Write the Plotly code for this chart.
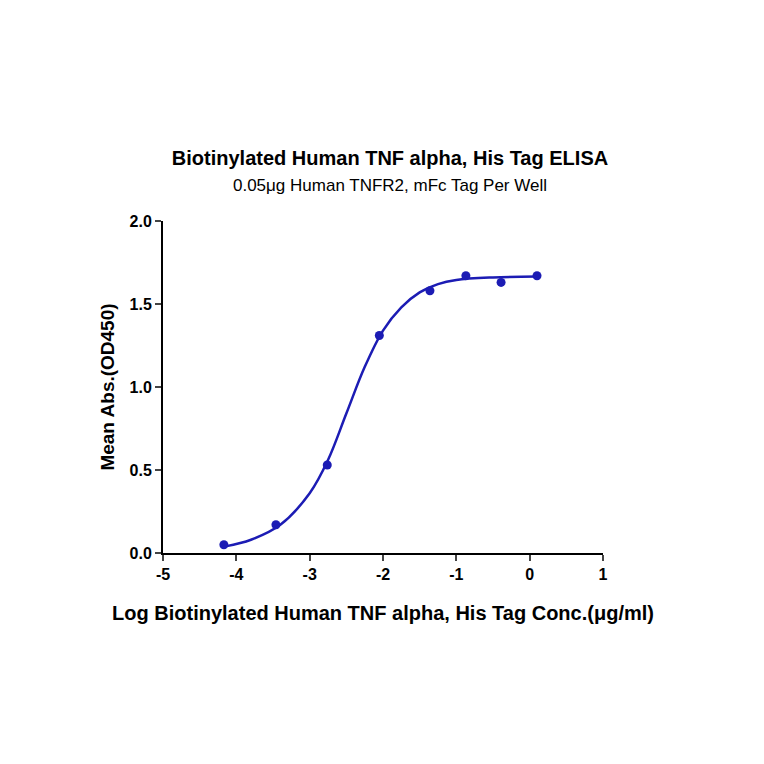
import plotly.graph_objects as go

# measured points
conc_log = [-4.17, -3.46, -2.76, -2.05, -1.36, -0.87, -0.39, 0.10]
mean_abs = [0.05, 0.17, 0.53, 1.31, 1.58, 1.67, 1.63, 1.67]

# fitted curve
fit_x = [-4.15, -3.8, -3.4, -3.0, -2.75, -2.5, -2.25, -2.0, -1.75, -1.5, -1.25, -1.0, -0.5, 0.1]
fit_y = [0.04, 0.08, 0.17, 0.36, 0.56, 0.84, 1.12, 1.34, 1.48, 1.57, 1.62, 1.645, 1.66, 1.665]

x_ticks = [-5, -4, -3, -2, -1, 0, 1]
x_labels = ['-5', '-4', '-3', '-2', '-1', '0', '1']
y_ticks = [0, 0.5, 1.0, 1.5, 2.0]
y_labels = ['0.0', '0.5', '1.0', '1.5', '2.0']

blue = '#1c1cb4'

fig = go.Figure()
fig.add_trace(go.Scatter(x=fit_x, y=fit_y, mode='lines', line=dict(color=blue, width=2.5, shape='spline'),
                         showlegend=False, hoverinfo='skip'))
fig.add_trace(go.Scatter(x=conc_log, y=mean_abs, mode='markers', marker=dict(color=blue, size=9),
                         showlegend=False))

axis_font = dict(family='Arial, Liberation Sans', size=16, color='black', weight='bold')
fig.update_layout(
    width=764, height=764,
    plot_bgcolor='white', paper_bgcolor='white',
    margin=dict(l=155, r=169, t=213, b=219),
    font=dict(family='Arial, Liberation Sans', color='black'),
    title=dict(text='<b>Biotinylated Human TNF alpha, His Tag ELISA</b><br>'
                    '<span style="font-size:17px">0.05μg Human TNFR2, mFc Tag Per Well</span>',
               x=0.5, xanchor='center', y=0.795, yanchor='middle', font=dict(size=20)),
    xaxis=dict(range=[-5, 1], tickvals=x_ticks, ticktext=x_labels, showline=True, linecolor='black',
               linewidth=2, ticks='outside', ticklen=6, tickwidth=2, showgrid=False, zeroline=False,
               tickfont=axis_font,
               title=dict(text='<b>Log Biotinylated Human TNF alpha, His Tag Conc.(μg/ml)</b>',
                          font=dict(size=20), standoff=24)),
    yaxis=dict(range=[0, 2.0], tickvals=y_ticks, ticktext=y_labels,
               showline=True, linecolor='black', linewidth=2, ticks='outside', ticklen=6, tickwidth=2,
               showgrid=False, zeroline=False, tickfont=axis_font,
               title=dict(text='<b>Mean Abs.(OD450)</b>', font=dict(size=19), standoff=10)),
)

fig.write_html('out.html')
